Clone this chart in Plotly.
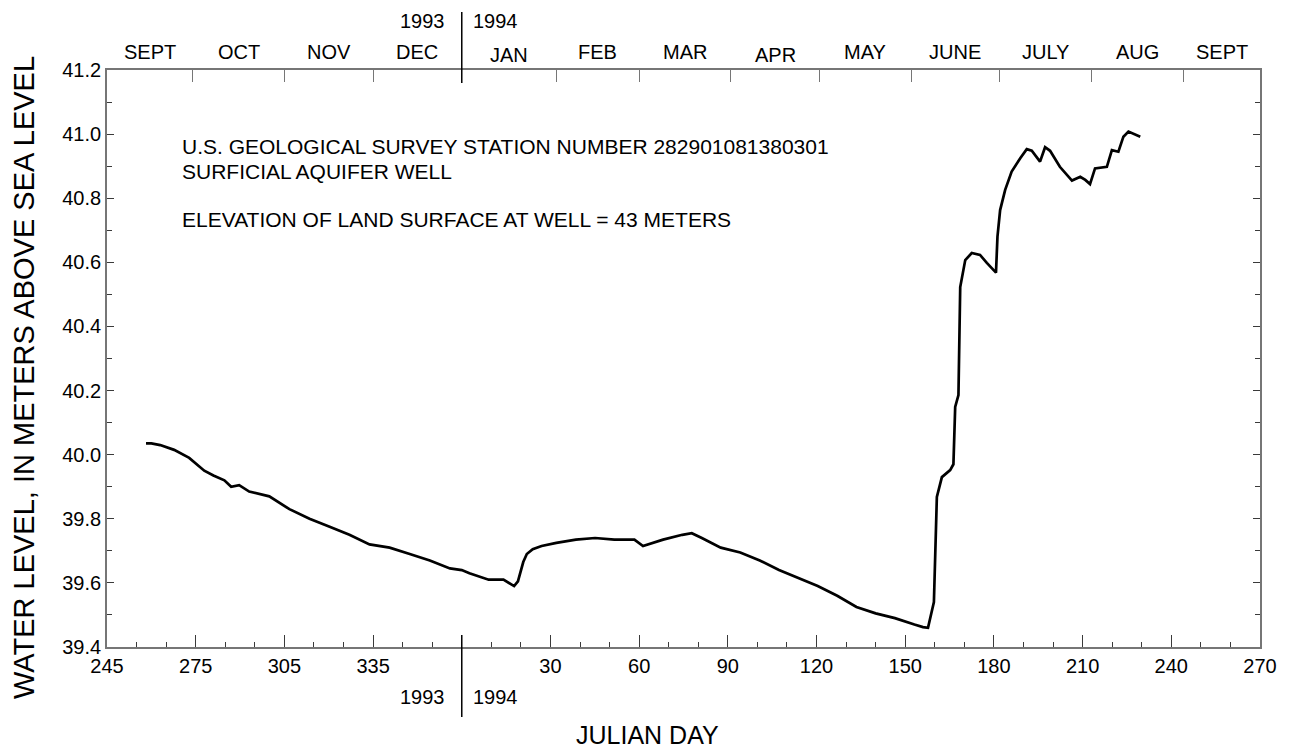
import plotly.graph_objects as go

# Water-level record, surficial aquifer well 282901081380301
# Julian days in 1993 and 1994, water level in meters above sea level
day_1993 = [258.2, 260, 263, 267.7, 272.8, 277.9, 281, 284.7, 287, 289.7, 293.1,
            299.9, 306.7, 313.5, 320.3, 327, 333.8, 340.6, 347.4, 354.2, 361, 365]
level_1993 = [40.035, 40.035, 40.03, 40.015, 39.99, 39.95, 39.935, 39.92, 39.90, 39.905, 39.885,
              39.87, 39.83, 39.80, 39.775, 39.75, 39.72, 39.71, 39.69, 39.67, 39.645, 39.64]

day_1994 = [2.6, 9.1, 14.1, 17.7, 19.0, 20.0, 20.8, 22.0, 24.0, 27.0, 32, 38.6, 45.1, 51.6,
            58.4, 61.3, 68.1, 74.6, 77.8, 81.2, 87.6, 94.2, 100.8, 107.3, 113.8, 120.4, 127,
            133.5, 140, 146.5, 153.1, 156, 157.7, 159.7, 160.7, 162.4, 165.2, 166.3, 166.9,
            168.0, 168.6, 170.3, 172.5, 175.3, 177.6, 180.7, 181.2, 182.1, 183.8, 186, 188.9,
            191.1, 192.8, 195.6, 197.3, 199, 202.3, 206.4, 209.2, 210.9, 212.5, 214.2, 218.2,
            219.9, 222.1, 223.8, 225.5, 229.5]
level_1994 = [39.63, 39.61, 39.61, 39.59, 39.605, 39.635, 39.665, 39.69, 39.705, 39.715, 39.725,
              39.735, 39.74, 39.735, 39.735, 39.715, 39.735, 39.75, 39.755, 39.74, 39.71,
              39.695, 39.67, 39.64, 39.615, 39.59, 39.56, 39.525, 39.505, 39.49, 39.47, 39.462,
              39.46, 39.54, 39.868, 39.93, 39.952, 39.97, 40.149, 40.186, 40.523, 40.607,
              40.629, 40.623, 40.598, 40.568, 40.68, 40.763, 40.826, 40.883, 40.925, 40.953,
              40.948, 40.914, 40.959, 40.948, 40.898, 40.855, 40.867, 40.857, 40.844, 40.893,
              40.898, 40.95, 40.945, 40.992, 41.008, 40.992]

# Axis labelling
tick_days_1993 = [245, 275, 305, 335]
tick_days_1994 = [30, 60, 90, 120, 150, 180, 210, 240, 270]
months = ["SEPT", "OCT", "NOV", "DEC", "JAN", "FEB", "MAR", "APR", "MAY",
          "JUNE", "JULY", "AUG", "SEPT"]
# first Julian day of each month (1993 Sept-Dec, then 1994 Jan-Sept)
month_start_1993 = [244, 274, 305, 335]
month_start_1994 = [1, 32, 60, 91, 121, 152, 182, 213, 244]

YEAR_LEN = 365
X0, X1 = 245, YEAR_LEN + 270

x_vals = list(day_1993) + [YEAR_LEN + d for d in day_1994]
y_vals = list(level_1993) + list(level_1994)

FONT = "Liberation Sans, Arial, Helvetica, sans-serif"
AXIS_COLOR = "#767676"
TICK_COLOR = "#3a3a3a"

# plot-area geometry in pixels
W, H = 1295, 752
ML, MR, MT, MB = 107, 35, 70, 105
PW, PH = W - ML - MR, H - MT - MB

fig = go.Figure()
fig.add_trace(go.Scatter(x=x_vals, y=y_vals, mode="lines",
                         line=dict(color="black", width=2.7),
                         hoverinfo="skip", showlegend=False))

# dummy trace so the top axis is drawn
fig.add_trace(go.Scatter(x=[X0, X1], y=[39.4, 39.4], xaxis="x2", mode="lines",
                         line=dict(width=0), hoverinfo="skip", showlegend=False))

bottom_tickvals = tick_days_1993 + [YEAR_LEN + d for d in tick_days_1994]
bottom_ticktext = [str(d) for d in tick_days_1993] + [str(d) for d in tick_days_1994]

starts = month_start_1993 + [YEAR_LEN + d for d in month_start_1994]
# the Dec/Jan boundary is drawn as the year divider
top_tickvals = [s for s in starts if X0 < s < X1 and s != YEAR_LEN + 1]
edges = [X0] + starts[1:4] + [YEAR_LEN] + starts[5:] + [X1]
month_centers = [(edges[i] + edges[i + 1]) / 2 for i in range(len(months))]

fig.update_layout(
    width=W, height=H,
    margin=dict(l=ML, r=MR, t=MT, b=MB),
    paper_bgcolor="white", plot_bgcolor="white",
    font=dict(family=FONT, size=20, color="black"),
    xaxis=dict(
        range=[X0, X1], tickmode="array", tickvals=bottom_tickvals, ticktext=bottom_ticktext,
        ticks="inside", ticklen=12, tickwidth=1.3, tickcolor=TICK_COLOR,
        minor=dict(tick0=245, dtick=10, ticks="inside", ticklen=5, tickwidth=1.3,
                   tickcolor=TICK_COLOR, showgrid=False),
        showline=True, linecolor=AXIS_COLOR, linewidth=1.6, mirror=False,
        showgrid=False, zeroline=False,
        tickfont=dict(family=FONT, size=20, color="black"),
    ),
    xaxis2=dict(
        range=[X0, X1], overlaying="x", side="top", tickmode="array", tickvals=top_tickvals,
        ticks="inside", ticklen=12, tickwidth=1.3, tickcolor=AXIS_COLOR,
        showticklabels=False, showline=True, linecolor=AXIS_COLOR, linewidth=1.6,
        showgrid=False, zeroline=False,
    ),
    yaxis=dict(
        range=[39.4, 41.2], tickmode="linear", tick0=39.4, dtick=0.2, tickformat=".1f",
        ticks="inside", ticklen=7, tickwidth=1.3, tickcolor=TICK_COLOR,
        minor=dict(dtick=0.1, tick0=39.4, ticks="inside", ticklen=5, tickwidth=1.3,
                   tickcolor=TICK_COLOR, showgrid=False),
        showline=True, linecolor=AXIS_COLOR, linewidth=1.6, mirror="ticks",
        showgrid=False, zeroline=False,
        tickfont=dict(family=FONT, size=20, color="black"),
    ),
)


def px_x(px):
    return (px - ML) / PW


def px_y(py):
    return (H - MB - py) / PH


annotations = []
# month names along the top
for name, xc in zip(months, month_centers):
    dy = 3 if name in ("JAN", "APR") else 0
    annotations.append(dict(x=xc, y=1, xref="x", yref="paper", text=name, showarrow=False,
                            xanchor="center", yanchor="middle", yshift=18 - dy,
                            font=dict(family=FONT, size=20, color="black")))
# year labels either side of the divider, top and bottom
for yref_y, shift in ((1, 49), (0, -50)):
    annotations.append(dict(x=YEAR_LEN, y=yref_y, xref="x", yref="paper", text="1993",
                            showarrow=False, xanchor="right", yanchor="middle",
                            xshift=-15, yshift=shift,
                            font=dict(family=FONT, size=20, color="black")))
    annotations.append(dict(x=YEAR_LEN, y=yref_y, xref="x", yref="paper", text="1994",
                            showarrow=False, xanchor="left", yanchor="middle",
                            xshift=9, yshift=shift,
                            font=dict(family=FONT, size=20, color="black")))

# station description
notes = [("U.S. GEOLOGICAL SURVEY STATION NUMBER 282901081380301", 146),
         ("SURFICIAL AQUIFER WELL", 171),
         ("ELEVATION OF LAND SURFACE AT WELL = 43 METERS", 219)]
for text, py in notes:
    annotations.append(dict(x=px_x(180), y=px_y(py), xref="paper", yref="paper",
                            text=text, showarrow=False, xanchor="left", yanchor="middle",
                            font=dict(family=FONT, size=21, color="black")))

# axis titles
annotations.append(dict(x=px_x(647), y=px_y(735), xref="paper", yref="paper",
                        text="JULIAN DAY", showarrow=False, xanchor="center", yanchor="middle",
                        font=dict(family=FONT, size=25, color="black")))
annotations.append(dict(x=px_x(24), y=px_y(378), xref="paper", yref="paper",
                        text="WATER LEVEL, IN METERS ABOVE SEA LEVEL", textangle=-90,
                        showarrow=False, xanchor="center", yanchor="middle",
                        font=dict(family=FONT, size=29, color="black")))
fig.update_layout(annotations=annotations)

# year divider through the top and bottom axes
fig.add_shape(type="line", xref="x", yref="paper", x0=YEAR_LEN, x1=YEAR_LEN,
              ysizemode="pixel", yanchor=1, y0=-13, y1=58,
              line=dict(color="black", width=1.5))
fig.add_shape(type="line", xref="x", yref="paper", x0=YEAR_LEN, x1=YEAR_LEN,
              ysizemode="pixel", yanchor=0, y0=12, y1=-70,
              line=dict(color="black", width=1.5))

fig.write_html("out.html")
